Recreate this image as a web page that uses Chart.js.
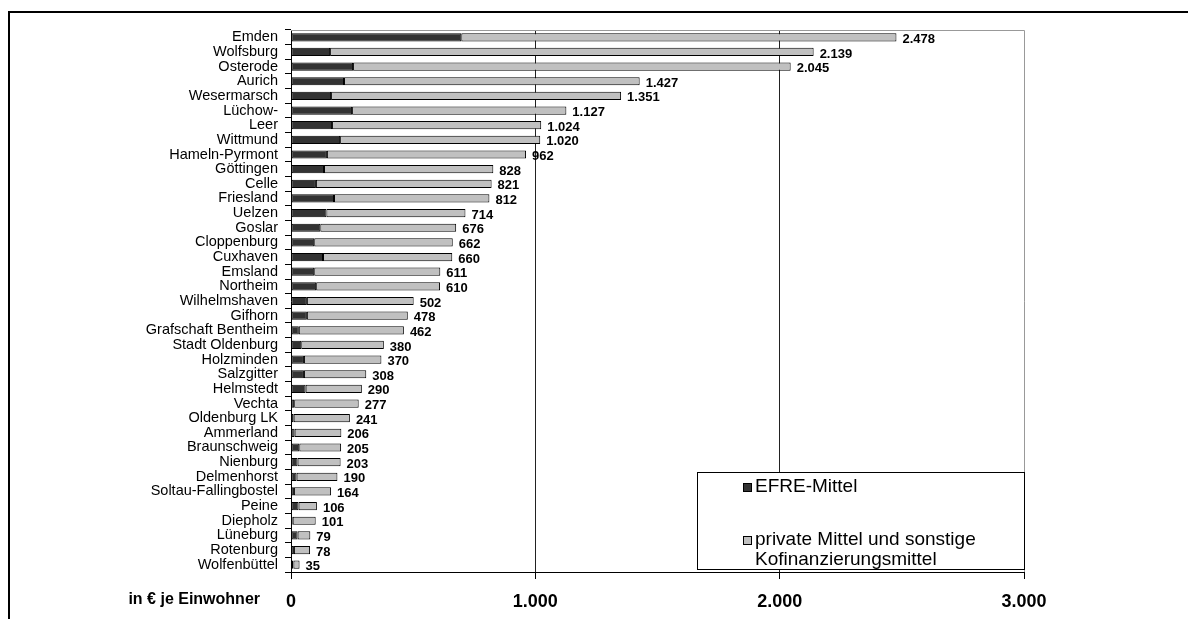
<!DOCTYPE html>
<html><head><meta charset="utf-8">
<script src="https://cdn.jsdelivr.net/npm/chart.js@4.4.1/dist/chart.umd.min.js"></script>
<style>html,body{margin:0;padding:0;background:#fff;overflow:hidden}</style>
</head><body>
<canvas id="c" width="1188" height="619"></canvas>
<script>
const categories = ["Emden","Wolfsburg","Osterode","Aurich","Wesermarsch","Lüchow-","Leer","Wittmund","Hameln-Pyrmont","Göttingen","Celle","Friesland","Uelzen","Goslar","Cloppenburg","Cuxhaven","Emsland","Northeim","Wilhelmshaven","Gifhorn","Grafschaft Bentheim","Stadt Oldenburg","Holzminden","Salzgitter","Helmstedt","Vechta","Oldenburg LK","Ammerland","Braunschweig","Nienburg","Delmenhorst","Soltau-Fallingbostel","Peine","Diepholz","Lüneburg","Rotenburg","Wolfenbüttel"];
const efre = [697,160,254,217,164,250,168,201,147,135,102,176,145,120,95,131,95,103,65,65,32,42,53,53,60,13,11,15,34,27,23,12,31,7,27,12,10];
const privat = [1781,1979,1791,1210,1187,877,856,819,815,693,719,636,569,556,567,529,516,507,437,413,430,338,317,255,230,264,230,191,171,176,167,152,75,94,52,66,25];
const xTicks = [0,1000,2000,3000];
const seriesNames = ["EFRE-Mittel","private Mittel und sonstige\nKofinanzierungsmittel"];
const axisTitle = "in € je Einwohner";

const FONT = '"Liberation Sans", Arial, sans-serif';
const fmt = n => String(n).replace(/\B(?=(\d{3})+(?!\d))/g, '.');
const DARK = '#333333', LIGHT = '#c0c0c0';

const decor = {
  id: 'decor',
  beforeDraw(chart) {
    const ctx = chart.ctx;
    ctx.save();
    ctx.fillStyle = '#fff';
    ctx.fillRect(0, 0, chart.width, chart.height);
    ctx.restore();
  },
  afterDatasetsDraw(chart) {
    const ctx = chart.ctx;
    const meta = chart.getDatasetMeta(1);
    ctx.save();
    ctx.font = 'bold 13px ' + FONT;
    ctx.fillStyle = '#000';
    ctx.textBaseline = 'middle';
    ctx.textAlign = 'left';
    meta.data.forEach((bar, i) => {
      ctx.fillText(fmt(efre[i] + privat[i]), bar.x + 6, bar.y + 2);
    });
    ctx.restore();
  },
  afterDraw(chart) {
    const ctx = chart.ctx;
    const a = chart.chartArea;
    ctx.save();
    ctx.strokeStyle = '#999';
    ctx.lineWidth = 1;
    ctx.beginPath();
    ctx.moveTo(a.left, a.top + 0.5);
    ctx.lineTo(a.right + 0.5, a.top + 0.5);
    ctx.lineTo(a.right + 0.5, a.bottom);
    ctx.stroke();
    ctx.strokeStyle = '#000';
    ctx.lineWidth = 2;
    ctx.beginPath();
    ctx.moveTo(9, chart.height);
    ctx.lineTo(9, 12);
    ctx.lineTo(chart.width, 12);
    ctx.stroke();
    ctx.font = 'bold 16px ' + FONT;
    ctx.fillStyle = '#000';
    ctx.textAlign = 'right';
    ctx.textBaseline = 'middle';
    ctx.fillText(axisTitle, 260, 600);
    const lx = 697, ly = 472, lw = a.right - lx, lh = 97;
    ctx.fillStyle = '#fff';
    ctx.fillRect(lx, ly, lw, lh);
    ctx.strokeStyle = '#000';
    ctx.lineWidth = 1;
    ctx.strokeRect(lx + 0.5, ly + 0.5, lw, lh);
    const items = [{c: DARK, y: 487}, {c: LIGHT, y: 540}];
    ctx.font = '19px ' + FONT;
    ctx.textAlign = 'left';
    items.forEach((it, k) => {
      ctx.fillStyle = it.c;
      ctx.fillRect(743, it.y - 4, 9, 9);
      ctx.strokeStyle = '#000';
      ctx.strokeRect(743.5, it.y - 3.5, 8, 8);
      ctx.fillStyle = '#000';
      seriesNames[k].split('\n').forEach((line, j) => {
        ctx.fillText(line, 755, it.y + j * 20);
      });
    });
    ctx.restore();
  }
};

new Chart(document.getElementById('c'), {
  type: 'bar',
  data: {
    labels: categories,
    datasets: [
      {label: seriesNames[0], data: efre, backgroundColor: DARK, borderColor: '#000', borderWidth: 1, borderSkipped: false, barPercentage: 0.56, categoryPercentage: 1},
      {label: seriesNames[1], data: privat, backgroundColor: LIGHT, borderColor: '#000', borderWidth: 1, borderSkipped: false, barPercentage: 0.56, categoryPercentage: 1}
    ]
  },
  options: {
    indexAxis: 'y',
    responsive: false,
    animation: false,
    devicePixelRatio: 1,
    layout: {padding: {left: 0, right: 164, top: 30, bottom: 0}},
    plugins: {legend: {display: false}, tooltip: {enabled: false}},
    scales: {
      x: {
        stacked: true, min: 0, max: 3000,
        afterBuildTicks: s => { s.ticks = xTicks.map(v => ({value: v})); },
        ticks: {callback: v => fmt(v), color: '#000', font: {family: FONT, size: 18, weight: 'bold'}, padding: 12, maxRotation: 0},
        grid: {
          color: c => (c.tick && (c.tick.value === 1000 || c.tick.value === 2000)) ? '#222' : 'rgba(0,0,0,0)',
          tickColor: '#000', tickLength: 7, lineWidth: 1
        },
        border: {display: true, color: '#000', width: 1},
        afterFit: s => { s.height = 47; }
      },
      y: {
        stacked: true,
        ticks: {color: '#000', font: {family: FONT, size: 14.5}, padding: 7, autoSkip: false},
        grid: {display: true, drawOnChartArea: false, drawTicks: true, tickLength: 6, color: '#000', tickColor: '#000', offset: true},
        border: {display: true, color: '#000', width: 1},
        afterFit: s => { s.width = 291; }
      }
    }
  },
  plugins: [decor]
});
</script>
</body></html>
